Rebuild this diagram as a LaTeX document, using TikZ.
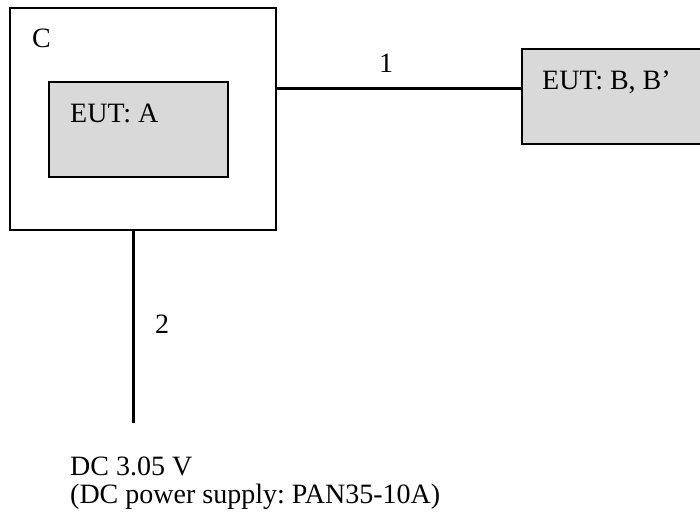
\documentclass[tikz,border=0pt]{standalone}
\usepackage{fontspec}
\setmainfont{Liberation Serif}
\usepackage{tikz}
\usetikzlibrary{calc}
\definecolor{eutgray}{RGB}{217,217,217}
\newcommand{\unitbox}[5]{\node[draw, line width=1.6pt, fill=#5, inner sep=0pt, minimum width=#2, minimum height=#3] (#4) at (#1) {};}
\newcommand{\lbl}[3]{\node[anchor=base west, inner sep=0pt] (#1) at (#2) {#3};}
\tikzset{cable/.style={line width=3pt}}
\frenchspacing

\begin{document}
\begin{tikzpicture}[x=1pt, y=-1pt, font=\fontsize{28}{33}\selectfont]
        \clip (0,0) rectangle (700,516);
        \useasboundingbox (0,0) rectangle (700,516);

        % boxes
        \unitbox{143,119}{266pt}{222pt}{boxc}{white}
        \unitbox{138.5,129.5}{179pt}{95pt}{euta}{eutgray}
        \unitbox{614,96.5}{184pt}{95pt}{eutb}{eutgray}

        \lbl{labc}{32,48}{C}
        \lbl{labA}{70,122}{EUT: A}
        \lbl{labB}{542,90}{EUT: B, B’}

        % cables
        \coordinate (j1) at (boxc.east |- 0,89);
        \coordinate (psu) at (133,423);
        \draw[cable] (j1) -- (j1 -| eutb.west);
        \draw[cable] (boxc.south -| psu) -- (psu);

        \node[anchor=base, inner sep=0pt] (n1) at (386,73) {1};
        \node[anchor=base, inner sep=0pt] (n2) at (162,333) {2};

        % supply
        \lbl{dcv}{70,475}{DC 3.05 V}
        \lbl{dcps}{70,503}{(DC power supply: PAN35-10A)}
    \end{tikzpicture}
\end{document}
